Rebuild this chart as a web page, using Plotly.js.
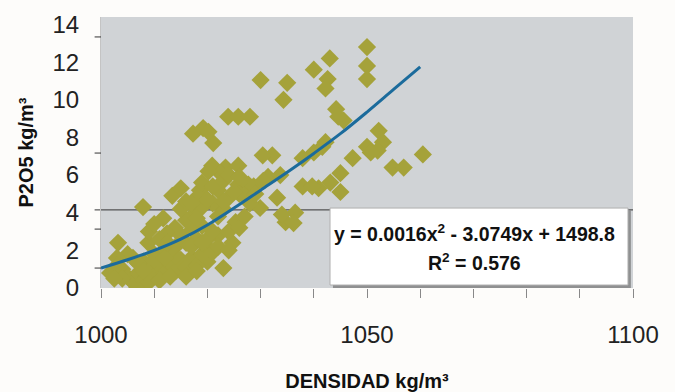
<!DOCTYPE html>
<html>
<head>
<meta charset="utf-8">
<script src="https://cdn.plot.ly/plotly-3.0.1.min.js"></script>
<style>
html,body{margin:0;padding:0;background:#fdfcfa;}
#chart{width:675px;height:392px;}
</style>
</head>
<body>
<div id="chart"></div>
<script>
// Observed samples: density (kg/m3) vs P2O5 (kg/m3)
const densidad = [
  1050, 1050, 1050, 1043, 1040, 1042.6, 1042.2, 1030, 1035, 1034.3,
  1044.2, 1045.6, 1044.6, 1052.2, 1053, 1050, 1052, 1050.7, 1047.3, 1060.5,
  1054.8, 1056.9, 1045, 1043.1, 1045, 1040.9, 1042.2, 1041.6, 1040, 1037.9,
  1032.2, 1030.4, 1031.4, 1033.7, 1037.9, 1039.7, 1025.8, 1027.7, 1028.7, 1030.5,
  1023.9, 1025.8, 1028, 1017.3, 1019.2, 1021.1, 1020.2, 1020.9, 1023.4, 1025.8,
  1022.4, 1020.2, 1018.6, 1018.3, 1017.7, 1013.4, 1007.9, 1011.7, 1013.9, 1012.4,
  1017.1, 1003.2, 1001.7, 1008.9, 1006.8, 1023, 1020, 1022, 1024.7, 1025.3,
  1020.2, 1029.9, 1033.1, 1034.7, 1036.5, 1036.2, 1034,
  1004, 1005, 1006, 1007, 1008, 1009, 1010, 1011, 1012, 1013,
  1014, 1015, 1016, 1017, 1018, 1019, 1006, 1008, 1010, 1012,
  1014, 1016, 1018, 1020, 1021, 1019, 1022, 1023, 1024, 1026,
  1027, 1028, 1026, 1024, 1022, 1021, 1019, 1016, 1015, 1014,
  1011, 1009, 1010, 1005, 1003, 1013, 1015, 1017, 1019,
  1015, 1016, 1019, 1021, 1023, 1024, 1026, 1027, 1029, 1025,
  1023, 1018, 1017, 1020, 1003, 1004, 1007, 1009, 1010, 1011,
  1012, 1013, 1016, 1018, 1021, 1022, 1024, 1002.5, 1008, 1012.5
];
const p2o5 = [
  12.8, 11.8, 11.1, 12.2, 11.6, 11.1, 10.6, 11.05, 10.9, 10.0,
  9.5, 8.9, 9.1, 8.35, 7.75, 7.5, 7.3, 7.2, 6.9, 7.1,
  6.4, 6.4, 6.1, 5.6, 5.1, 5.3, 7.75, 7.5, 7.2, 6.9,
  7.05, 7.05, 5.9, 6.0, 5.4, 5.4, 5.5, 5.5, 5.4, 5.7,
  9.1, 9.1, 9.1, 8.2, 8.5, 7.7, 8.3, 6.5, 6.4, 6.5,
  6.1, 6.2, 5.2, 4.9, 4.0, 4.9, 4.3, 3.7, 3.2, 2.9,
  3.1, 2.4, 0.8, 2.4, 0.05, 1.06, 1.4, 2.8, 2.4, 3.5,
  2.1, 4.25, 4.8, 3.5, 4.0, 3.45, 3.9,
  1.0, 0.6, 0.3, 0.8, 0.4, 1.0, 0.6, 1.2, 0.8, 1.3,
  0.9, 1.5, 1.1, 1.6, 1.2, 1.8, 1.6, 1.4, 1.8, 2.0,
  2.2, 2.4, 2.6, 2.6, 3.0, 3.3, 3.8, 4.2, 3.0, 3.2,
  3.8, 4.5, 5.0, 4.8, 5.2, 4.5, 4.3, 3.6, 4.2, 1.7,
  2.6, 3.0, 3.4, 1.8, 1.6, 2.0, 2.8, 2.2, 2.4,
  5.3, 4.6, 5.6, 5.4, 5.7, 6.0, 5.9, 4.9, 5.0, 5.1,
  4.6, 3.7, 4.5, 4.7, 1.2, 0.5, 1.3, 0.3, 1.5, 0.4,
  1.6, 0.6, 0.6, 0.9, 1.9, 2.2, 2.0, 0.5, 0.9, 2.4
];
// Polynomial trend line
const trendX = [1000, 1005, 1010, 1015, 1020, 1025, 1030, 1035, 1040, 1045, 1050, 1055, 1060];
const trendY = [1.06, 1.5, 2.0, 2.6, 3.35, 4.25, 5.2, 6.15, 7.15, 8.2, 9.35, 10.55, 11.75];

const xMajorStep = 50;
const xMinorStep = 10;
const yTicks = [0, 2, 4, 6, 8, 10, 12, 14];
const yTickText = ['0', '2', '4', '6', '8', '10', '12', '14'];
const eqLine1 = '<b>y = 0.0016x<sup>2</sup> - 3.0749x + 1498.8</b>';
const eqLine2 = '<b>R<sup>2</sup> = 0.576</b>';

const FONT = 'Liberation Sans, Arial, sans-serif';

const traces = [
  {
    x: densidad, y: p2o5, type: 'scatter', mode: 'markers',
    marker: {symbol: 'diamond', size: 14, color: '#a5a23a', line: {width: 0}},
    hoverinfo: 'skip', showlegend: false
  },
  {
    x: trendX, y: trendY, type: 'scatter', mode: 'lines',
    line: {color: '#1b6b9c', width: 3, shape: 'spline', smoothing: 1},
    hoverinfo: 'skip', showlegend: false
  }
];

const tickMarkY = [13.34, 7.17, 3.13, 1.06];
const shapes = [
  {type: 'line', xref: 'paper', yref: 'y', x0: -0.012, x1: 1, y0: 4.15, y1: 4.15,
   line: {color: '#333', width: 1}, layer: 'below'}
];
tickMarkY.forEach(v => shapes.push({type: 'line', xref: 'paper', yref: 'y', x0: -0.012, x1: 0, y0: v, y1: v,
   line: {color: '#333', width: 1}}));
// equation box (shadow + box)
shapes.push({type: 'rect', xref: 'paper', yref: 'paper', x0: 0.436, x1: 0.996, y0: 0.0, y1: 0.285,
   fillcolor: 'rgba(90,90,90,0.55)', line: {width: 0}});
shapes.push({type: 'rect', xref: 'paper', yref: 'paper', x0: 0.4305, x1: 0.9906, y0: 0.011, y1: 0.295,
   fillcolor: '#ffffff', line: {color: '#b0b0b0', width: 1}});

const layout = {
  width: 675, height: 392,
  margin: {l: 101, r: 42, t: 17, b: 104, pad: 0},
  paper_bgcolor: '#fdfcfa', plot_bgcolor: '#d0d3d6',
  font: {family: FONT, color: '#222'},
  showlegend: false,
  xaxis: {
    range: [1000, 1100], tickmode: 'linear', tick0: 1000, dtick: xMajorStep, tickformat: 'd',
    ticks: 'outside', ticklen: 9, tickcolor: '#888', tickwidth: 1,
    minor: {tickmode: 'linear', tick0: 1000, dtick: xMinorStep, ticks: 'outside', ticklen: 9, tickcolor: '#888', tickwidth: 1, showgrid: false},
    ticklabelstandoff: 16,
    tickfont: {size: 24, color: '#222', family: FONT},
    showgrid: false, zeroline: false, showline: false,
    title: {text: '<b>DENSIDAD kg/m³</b>', font: {size: 20, color: '#111', family: FONT}, standoff: 28}
  },
  yaxis: {
    range: [0, 14.4], tickvals: yTicks, ticktext: yTickText,
    ticks: '', ticklabelstandoff: 16,
    tickfont: {size: 24, color: '#222', family: FONT},
    showgrid: false, zeroline: false, showline: true, linecolor: '#c4c4c4', linewidth: 1,
    title: {text: '<b>P2O5 kg/m³</b>', font: {size: 20, color: '#111', family: FONT}, standoff: 13}
  },
  shapes: shapes,
  annotations: [
    {xref: 'paper', yref: 'paper', x: 0.703, y: 0.203, text: eqLine1, showarrow: false,
     font: {size: 19.5, color: '#111', family: FONT}, xanchor: 'center', yanchor: 'middle'},
    {xref: 'paper', yref: 'paper', x: 0.703, y: 0.096, text: eqLine2, showarrow: false,
     font: {size: 19.5, color: '#111', family: FONT}, xanchor: 'center', yanchor: 'middle'}
  ]
};

Plotly.newPlot('chart', traces, layout, {staticPlot: true, displayModeBar: false});
</script>
</body>
</html>
